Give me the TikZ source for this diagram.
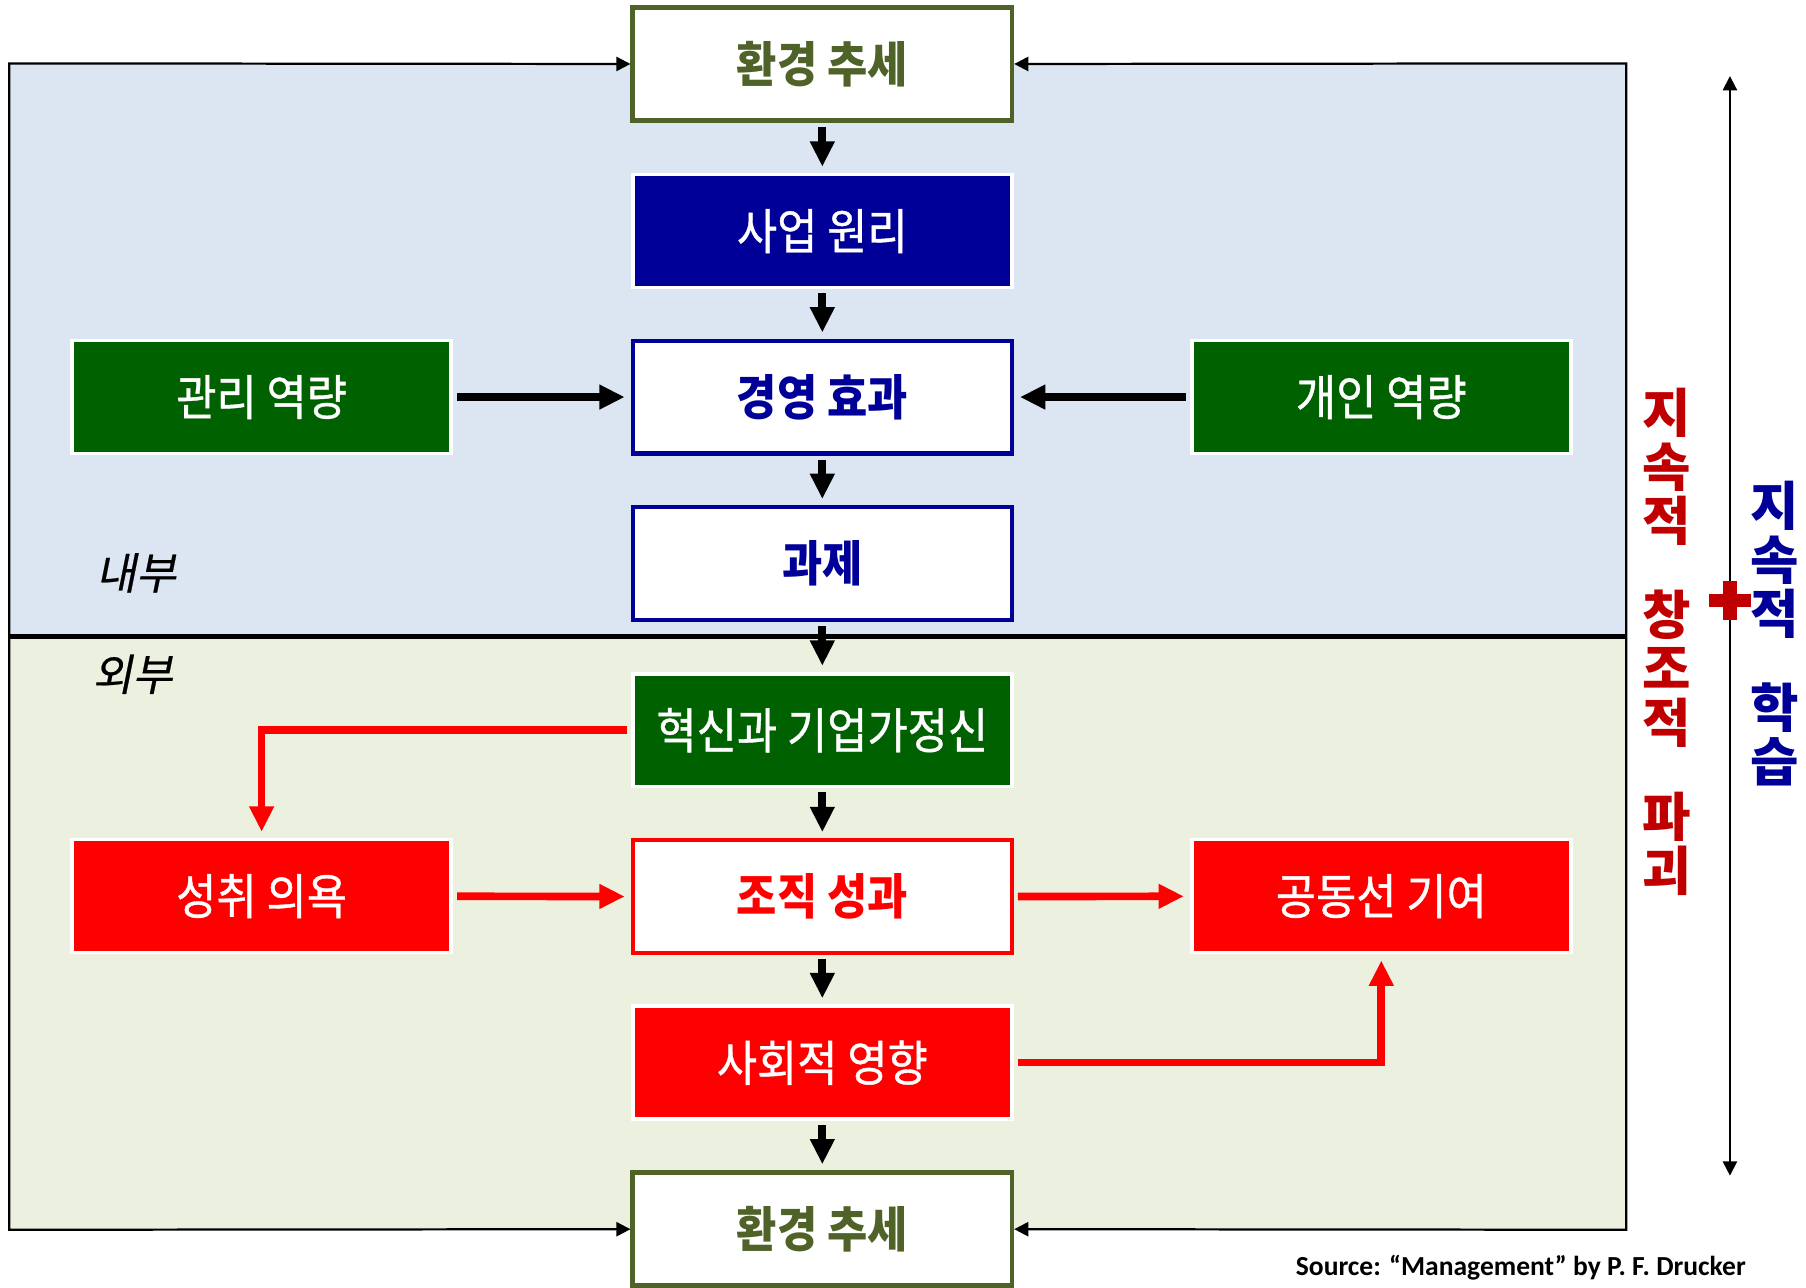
\documentclass[tikz,border=0pt]{standalone}
\usepackage{fontspec}
\setmainfont{Noto Sans CJK KR}
\newfontfamily\krbox{Noto Sans CJK KR}[FakeStretch=0.9]
\newfontfamily\krmed{Noto Sans CJK KR}[FakeStretch=0.9,FakeBold=0.8]
\newfontfamily\slantkr{Noto Sans CJK KR}[FakeSlant=0.2,FakeBold=0.5]
\newfontfamily\srcfont{Carlito}
\usetikzlibrary{arrows.meta}
\definecolor{panelblue}{HTML}{DCE6F2}
\definecolor{panelgreen}{HTML}{EBF1DE}
\definecolor{envolive}{HTML}{4F6228}
\definecolor{navyblue}{HTML}{000099}
\definecolor{boxgreen}{HTML}{006100}
\definecolor{darkred}{HTML}{C00000}

\begin{document}
\begin{tikzpicture}[x=0.02cm,y=-0.02cm,
plain box/.style={minimum width=6.58cm,minimum height=1.96cm,inner sep=0pt,font=\krmed\fontsize{24}{28}\selectfont},
env box/.style={plain box,draw=envolive,line width=2.3pt,fill=white,text=envolive,font=\krbox\fontsize{24}{28}\selectfont\bfseries},
white box/.style={plain box,fill=white,line width=2pt,font=\krbox\fontsize{24}{28}\selectfont\bfseries},
solid box/.style={plain box,draw=white,line width=1.8pt,text=white},
flow/.style={-{Triangle[width=11.5pt,length=12.5pt]},line width=3.8pt,shorten <=2pt,shorten >=3pt},
red flow/.style={flow,red},
thin flow/.style={{Triangle[width=7pt,length=7pt]}-{Triangle[width=7pt,length=7pt]},line width=1.1pt}]
\useasboundingbox (0,0) rectangle (1567,1117);
% The two panels
\fill[panelblue] (8,55) rectangle (1411,552);
\fill[panelgreen] (8,552) rectangle (1411,1067);
\coordinate (tl) at (8,55);
\coordinate (bl) at (8,1067);
\coordinate (tr) at (1411,55);
\coordinate (br) at (1411,1067);

% The boxes
\node[env box] (envtop) at (713.5,55.5) {환경 추세};
\node[solid box,fill=navyblue] (principle) at (713.5,200.5) {사업 원리};
\node[white box,draw=navyblue,text=navyblue] (effect) at (713.5,344.5) {경영 효과};
\node[solid box,fill=boxgreen] (mgmt) at (227,344.5) {관리 역량};
\node[solid box,fill=boxgreen] (personal) at (1198.5,344.5) {개인 역량};
\node[white box,draw=navyblue,text=navyblue] (task) at (713.5,489) {과제};
\node[solid box,fill=boxgreen] (innov) at (713.5,633.5) {혁신과 기업가정신};
\node[solid box,fill=red] (drive) at (227,777.5) {성취 의욕};
\node[white box,draw=red,text=red] (perf) at (713.5,778) {조직 성과};
\node[solid box,fill=red] (common) at (1198.5,777.5) {공동선 기여};
\node[solid box,fill=red] (social) at (713.5,922) {사회적 영향};
\node[env box] (envbot) at (713.5,1066.5) {환경 추세};

% Inside and outside
\node[font=\slantkr\fontsize{21.5}{25}\selectfont] (inner) at (118,497) {내부};
\node[font=\slantkr\fontsize{21.5}{25}\selectfont] (outer) at (115,585) {외부};

% The frame and the divider
\draw[thin flow] (envtop.west) -- (tl) -- (bl) -- (envbot.west);
\draw[thin flow] (envtop.east) -- (tr) -- (br) -- (envbot.east);
\draw[line width=2.3pt] (tl |- 0,552) -- (tr |- 0,552);

% The black flows
\foreach \a/\b in {envtop/principle,principle/effect,effect/task,task/innov,innov/perf,perf/social,social/envbot}
{
  \draw[flow] (\a.south) -- (\b.north);
}
\draw[flow] (mgmt) -- (effect);
\draw[flow] (personal) -- (effect);

% The red flows
\draw[red flow] (innov.west) -| (drive.north);
\draw[red flow] (drive) -- (perf);
\draw[red flow] (perf) -- (common);
\draw[red flow] (social.east) -| (common.south);

% The right side
\coordinate (up) at (1501,66);
\coordinate (down) at (1501,1020);
\draw[{Triangle[width=7pt,length=7pt]}-{Triangle[width=7pt,length=7pt]},line width=0.9pt] (up) -- (down);
\fill[darkred] (1483,515) rectangle (1519,527);
\fill[darkred] (1495,504) rectangle (1507,538);
\node[text=darkred,align=center,font=\fontsize{26}{26.6}\selectfont\bfseries] (destruction) at (1446,557)
  {지\\속\\적\\[20pt]창\\조\\적\\[20pt]파\\괴};
\node[text=navyblue,align=center,font=\fontsize{26}{26.6}\selectfont\bfseries] (learning) at (1540,550)
  {지\\속\\적\\[20pt]학\\습};

% The source
\node[anchor=east,font=\srcfont\bfseries\fontsize{13.6}{16}\selectfont] (source) at (1521,1100)
  {Source: “Management” by P. F. Drucker};
\end{tikzpicture}
\end{document}
